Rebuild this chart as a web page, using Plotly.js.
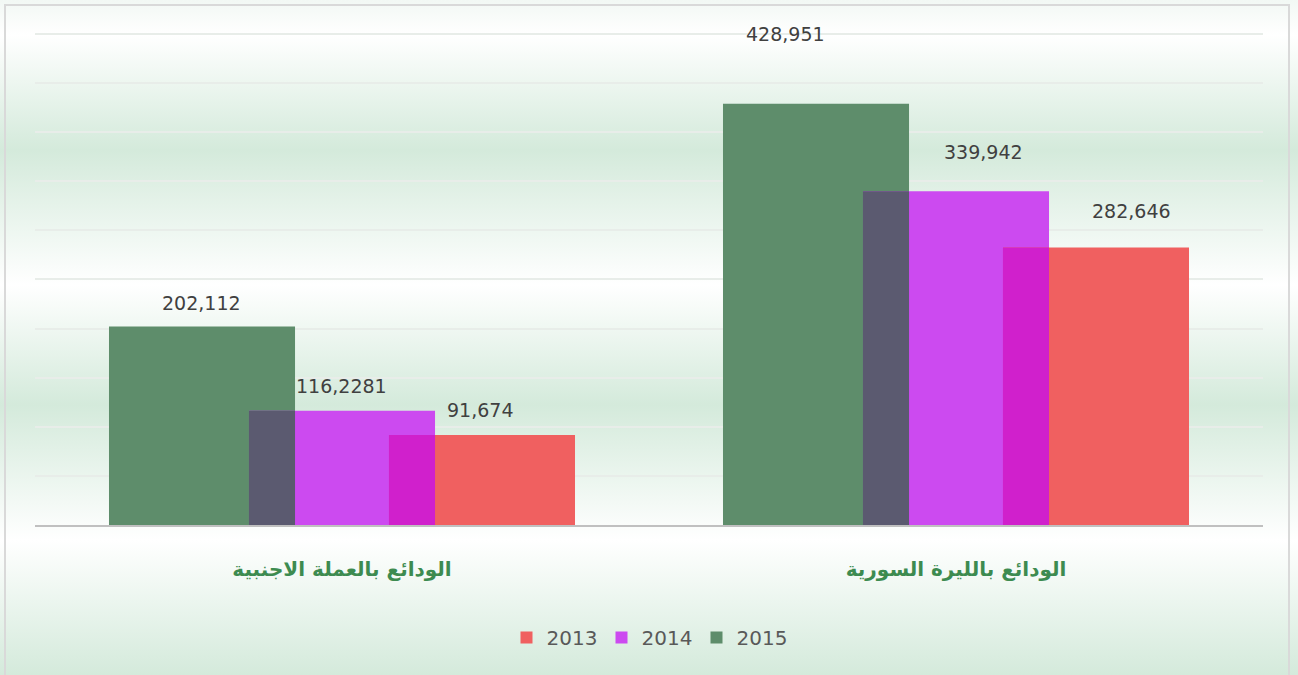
<!DOCTYPE html>
<html>
<head>
<meta charset="utf-8">
<script src="https://cdn.plot.ly/plotly-3.0.1.min.js"></script>
<style>
  html, body { margin: 0; padding: 0; }
  #wrap {
    position: relative; width: 1298px; height: 675px; overflow: hidden;
    background: linear-gradient(to bottom,
      #f2f8f4 0px, #ffffff 35px, #d4eadb 150px, #ffffff 285px,
      #d4eadb 405px, #ffffff 540px, #d4eadb 675px);
  }
  #frame {
    position: absolute; left: 4px; top: 4px; width: 1286px; height: 700px;
    border: 2px solid #d9d9d9; box-sizing: border-box; pointer-events: none;
  }
  #chart { position: absolute; left: 0; top: 0; width: 1298px; height: 675px; }
</style>
</head>
<body>
<div id="wrap">
  <div id="chart"></div>
  <div id="frame"></div>
</div>
<script>
// ---- data ----
const categories = ["الودائع بالعملة الاجنبية", "الودائع بالليرة السورية"];
const seriesNames = ["2015", "2014", "2013"];
const values2015 = [202112, 428951];
const values2014 = [116228, 339942];
const values2013 = [91674, 282646];
const labels2015 = ["202,112", "428,951"];
const labels2014 = ["116,2281", "339,942"];
const labels2013 = ["91,674", "282,646"];

// ---- styles ----
const colors = { "2015": "#5e8d6b", "2014": "#cc4af0", "2013": "#f06060" };
const overlapColors = ["#5b5a70", "#d020cc"];
const barWidth = 0.303;
const offsets = { "2015": -0.3795, "2014": -0.1515, "2013": 0.0765 };

const seriesVals = { "2015": values2015, "2014": values2014, "2013": values2013 };
const seriesLabels = { "2015": labels2015, "2014": labels2014, "2013": labels2013 };

const traces = seriesNames.map(n => ({
  type: "bar", name: n, x: categories, y: seriesVals[n],
  width: barWidth, offset: offsets[n],
  marker: { color: colors[n], line: { width: 0 } },
  hoverinfo: "x+y+name"
}));

// overlap strips derived from the data
function overlapTrace(a, b, color) {
  const off = offsets[b];
  const w = offsets[a] + barWidth - offsets[b];
  return {
    type: "bar", x: categories,
    y: seriesVals[a].map((v, i) => Math.min(v, seriesVals[b][i])),
    width: w, offset: off, showlegend: false,
    marker: { color: color, line: { width: 0 } }, hoverinfo: "skip"
  };
}
traces.push(overlapTrace("2015", "2014", overlapColors[0]));
traces.push(overlapTrace("2014", "2013", overlapColors[1]));

// label placement (pixel shifts, per category: [left, right])
const labelShift = {
  "2015": { dx: [-141, -171], dy: [24, 70] },
  "2014": { dx: [-1, 27], dy: [25, 39] },
  "2013": { dx: [138, 175], dy: [25, 36] }
};
const annotations = [];
seriesNames.forEach(n => {
  categories.forEach((c, i) => {
    annotations.push({
      x: c, y: seriesVals[n][i], xref: "x", yref: "y",
      text: seriesLabels[n][i], showarrow: false,
      xanchor: "center", yanchor: "middle",
      xshift: labelShift[n].dx[i], yshift: labelShift[n].dy[i],
      font: { family: "DejaVu Sans", size: 19, color: "#404040" }
    });
  });
});

const layout = {
  width: 1298, height: 675,
  margin: { l: 35, r: 35, t: 32, b: 150 },
  paper_bgcolor: "rgba(0,0,0,0)", plot_bgcolor: "rgba(0,0,0,0)",
  barmode: "overlay",
  showlegend: true,
  legend: {
    orientation: "h", x: 0.5, xanchor: "center", y: -0.228, yanchor: "middle",
    traceorder: "reversed", itemwidth: 30,
    entrywidth: 50, entrywidthmode: "pixels",
    font: { family: "DejaVu Sans", size: 20, color: "#595959" },
    bgcolor: "rgba(0,0,0,0)"
  },
  xaxis: {
    type: "category", range: [-0.5, 1.5],
    showgrid: false, zeroline: false, ticks: "",
    showline: true, linecolor: "#c0c0c0", linewidth: 2,
    ticklabelstandoff: 25,
    tickfont: { family: "DejaVu Sans", size: 20, color: "#3d8b50", weight: "bold" }
  },
  yaxis: {
    range: [0, 502000], dtick: 50000, showticklabels: false,
    showgrid: true, gridcolor: "rgba(232,237,233,1)", gridwidth: 2,
    zeroline: false, ticks: "", fixedrange: true
  },
  annotations: annotations,
  font: { family: "DejaVu Sans" }
};

Plotly.newPlot("chart", traces, layout, { displayModeBar: false, staticPlot: true });
</script>
</body>
</html>
